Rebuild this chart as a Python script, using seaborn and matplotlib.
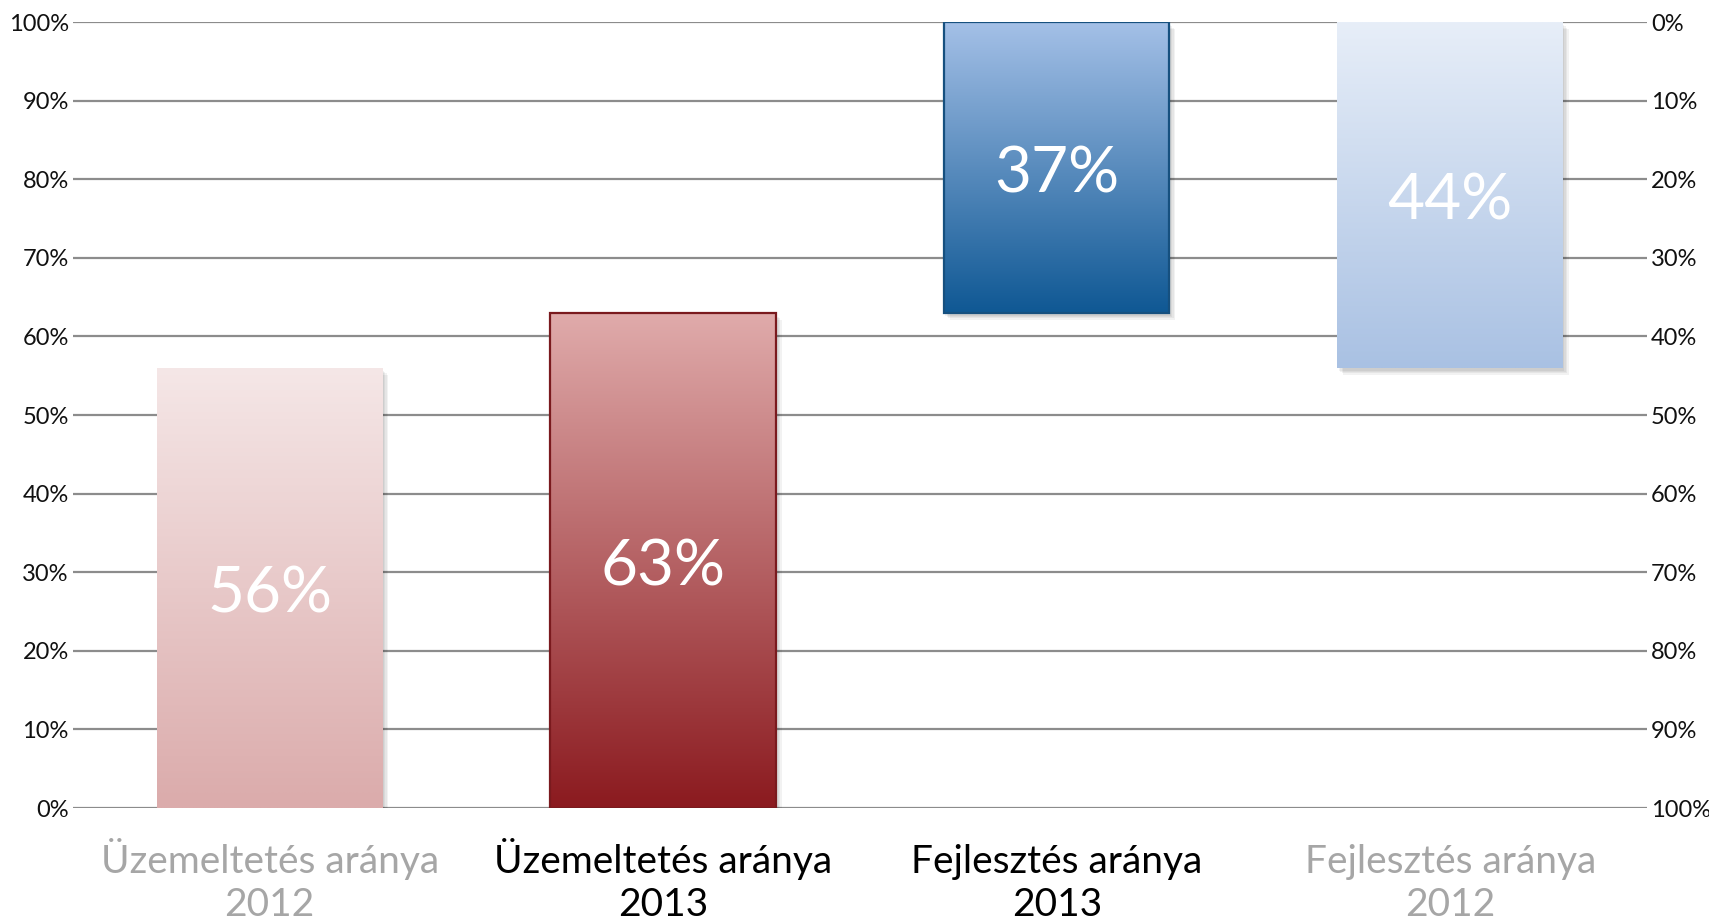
import matplotlib
matplotlib.use("Agg")
import matplotlib.pyplot as plt
import matplotlib.patheffects as pe
from matplotlib.colors import LinearSegmentedColormap
from matplotlib.patches import Rectangle
from matplotlib.ticker import FuncFormatter
import numpy as np
import seaborn as sns

# categories in display order
categories = ["Üzemeltetés aránya\n2012", "Üzemeltetés aránya\n2013",
              "Fejlesztés aránya\n2013", "Fejlesztés aránya\n2012"]
uzem_cats = categories[:2]
uzem_values = [56, 63]      # left axis, from bottom
fejl_cats = categories[2:]
fejl_values = [37, 44]      # right axis (inverted), from top
label_colors = ["#a6a6a6", "#000000", "#000000", "#a6a6a6"]

# (light end, dark end, edge) per bar
uzem_styles = [("#f5e7e7", "#dbabab", None), ("#e0abab", "#8b1a1f", "#7a1a1e")]
fejl_styles = [("#a4c0e7", "#0f5894", "#16507f"), ("#e7eef8", "#a9c1e3", None)]

sns.set_style("white")
plt.rcParams["font.family"] = ["Lato", "DejaVu Sans"]

fig = plt.figure(figsize=(17.09, 9.18), dpi=100)
ax = fig.add_axes([0.0427, 0.1198, 0.9210, 0.8562])
ax2 = ax.twinx()

sns.barplot(x=uzem_cats, y=uzem_values, order=categories, width=0.573, ax=ax)
sns.barplot(x=fejl_cats, y=fejl_values, order=categories, width=0.573, ax=ax2)

ax.set_ylim(0, 100)
ax2.set_ylim(100, 0)
ax.set_xlim(-0.5, 3.5)

# soft shadow: a few faint offset layers
shadow = [pe.SimplePatchShadow(offset=(o, -o - 1), shadow_rgbFace="#000000", alpha=0.05)
          for o in (1, 2, 3, 4)] + [pe.Normal()]


def paint(axis, styles, values, top_is_zero):
    for patch, (light, dark, edge), v in zip(axis.patches, styles, values):
        x, w = patch.get_x(), patch.get_width()
        # grad rows go from data y=0 to y=v
        if top_is_zero:
            cmap = LinearSegmentedColormap.from_list("g", [light, dark])
        else:
            cmap = LinearSegmentedColormap.from_list("g", [dark, light])
        grad = np.linspace(0, 1, 256).reshape(-1, 1)
        patch.set_facecolor(dark)
        patch.set_edgecolor("none")
        patch.set_zorder(1.4)
        patch.set_path_effects(shadow)
        im = axis.imshow(grad, cmap=cmap, extent=[x, x + w, 0, v], origin="lower",
                         aspect="auto", zorder=1.5, interpolation="bilinear")
        im.set_clip_path(patch)
        if edge:
            axis.add_patch(Rectangle((x, 0), w, v, facecolor="none", edgecolor=edge,
                                     linewidth=1.6, zorder=1.6))
        axis.annotate(f"{v}%", (x + w / 2, v / 2), xytext=(0, -5), textcoords="offset points",
                      ha="center", va="center", color="white", fontsize=46, zorder=3)


paint(ax, uzem_styles, uzem_values, top_is_zero=False)
paint(ax2, fejl_styles, fejl_values, top_is_zero=True)

ax.set_xlim(-0.5, 3.5)
ax.set_aspect("auto")
ax2.set_aspect("auto")

pct = FuncFormatter(lambda v, _: f"{v:.0f}%")
ax.set_yticks(range(0, 101, 10))
ax2.set_yticks(range(0, 101, 10))
ax.yaxis.set_major_formatter(pct)
ax2.yaxis.set_major_formatter(pct)
ax.tick_params(axis="y", length=0, pad=3, labelsize=17, labelcolor="#111111")
ax2.tick_params(axis="y", length=0, pad=3, labelsize=17, labelcolor="#111111")

ax.set_axisbelow(True)
ax.yaxis.grid(True, color="#8c8c8c", linewidth=1.6)
ax.xaxis.grid(False)
ax2.grid(False)

ax.set_xticks(range(len(categories)))
ax.set_xticklabels(categories, fontsize=28, linespacing=1.26)
for lbl, c in zip(ax.get_xticklabels(), label_colors):
    lbl.set_color(c)
    lbl.set_verticalalignment("baseline")
ax.tick_params(axis="x", length=0, pad=78)
ax2.tick_params(axis="x", length=0, labelbottom=False)
ax.set_xlabel("")
ax.set_ylabel("")
ax2.set_ylabel("")

for a in (ax, ax2):
    for s in a.spines.values():
        s.set_visible(False)

fig.savefig("out.png", dpi=100)
